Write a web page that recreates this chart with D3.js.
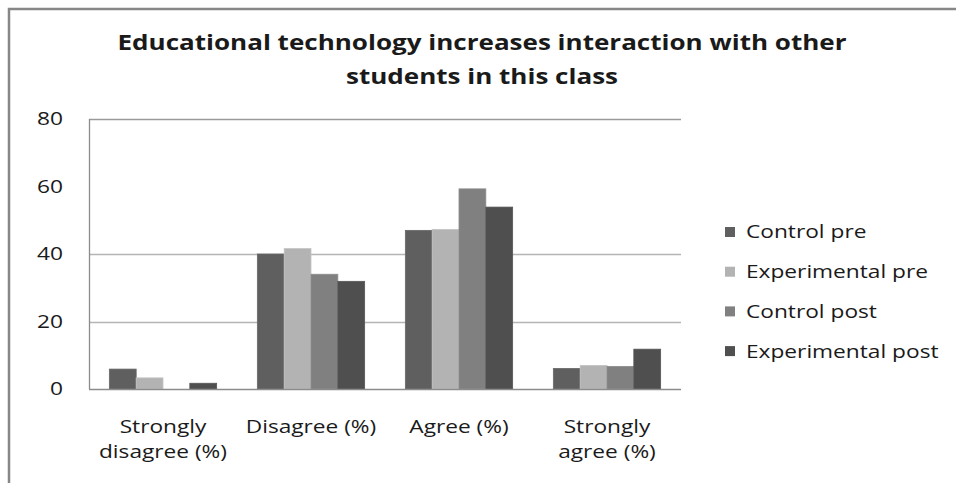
<!DOCTYPE html>
<html>
<head>
<meta charset="utf-8">
<script src="https://cdn.jsdelivr.net/npm/d3@7/dist/d3.min.js"></script>
<style>
  html, body { margin: 0; padding: 0; background: #fff; }
  svg { display: block; }
  text { font-family: "Open Sans", "DejaVu Sans", sans-serif; fill: #1a1a1a; }
</style>
</head>
<body>
<svg id="chart" width="956" height="483"></svg>
<script>
// Survey responses (%), one array per group
const categories = [["Strongly", "disagree (%)"], ["Disagree (%)"], ["Agree (%)"], ["Strongly", "agree (%)"]];
const seriesNames = ["Control pre", "Experimental pre", "Control post", "Experimental post"];
const controlPre = [5.9, 40.0, 47.0, 6.1];
const experimentalPre = [3.3, 41.6, 47.3, 7.0];
const controlPost = [0, 34.0, 59.3, 6.7];
const experimentalPost = [1.7, 31.9, 53.9, 11.8];
const yTicks = [0, 20, 40, 60, 80];
const gridTicks = [20, 40, 80];
const titleLines = ["Educational technology increases interaction with other", "students in this class"];

const seriesValues = [controlPre, experimentalPre, controlPost, experimentalPost];
const colors = ["#5f5f5f", "#b3b3b3", "#808080", "#4f4f4f"];

const svg = d3.select("#chart");

// Outer frame (top and left edges)
svg.append("path")
  .attr("d", "M9,483 V9 H956")
  .attr("fill", "none")
  .attr("stroke", "#878787")
  .attr("stroke-width", 2.5);

const plot = { left: 89, right: 681, top: 119, bottom: 389 };

const x0 = d3.scaleBand()
  .domain(d3.range(categories.length))
  .range([plot.left, plot.right])
  .paddingInner(0.275)
  .paddingOuter(0.1375);

const x1 = d3.scaleBand()
  .domain(d3.range(seriesNames.length))
  .range([0, x0.bandwidth()]);

const y = d3.scaleLinear().domain([0, 80]).range([plot.bottom, plot.top]);

// Stretch a text selection horizontally so that a reference string spans `target` px
function stretchTo(sel, refNode, target) {
  const k = target / refNode.getComputedTextLength();
  sel.each(function () {
    const w = this.getComputedTextLength();
    d3.select(this).attr("textLength", w * k).attr("lengthAdjust", "spacingAndGlyphs");
  });
}

// Gridlines
svg.append("g")
  .selectAll("line")
  .data(gridTicks)
  .join("line")
  .attr("x1", plot.left)
  .attr("x2", plot.right)
  .attr("y1", d => Math.round(y(d)) + 0.5)
  .attr("y2", d => Math.round(y(d)) + 0.5)
  .attr("stroke", d => d === 80 ? "#9a9a9a" : "#b5b5b5")
  .attr("stroke-width", 1.3);

// Bars
const groups = svg.append("g")
  .selectAll("g")
  .data(categories.map((c, i) => i))
  .join("g")
  .attr("transform", i => `translate(${x0(i)},0)`);

groups.selectAll("rect")
  .data(i => seriesValues.map((vals, s) => ({ s, v: vals[i] })))
  .join("rect")
  .attr("x", d => x1(d.s))
  .attr("width", x1.bandwidth())
  .attr("y", d => y(d.v))
  .attr("height", d => y(0) - y(d.v))
  .attr("fill", d => colors[d.s])
  .attr("stroke", d => d3.color(colors[d.s]).brighter(0.25))
  .attr("stroke-width", 0.8);

// Y axis line and baseline
svg.append("line")
  .attr("x1", plot.left + 0.5).attr("x2", plot.left + 0.5)
  .attr("y1", plot.top).attr("y2", plot.bottom)
  .attr("stroke", "#8c8c8c").attr("stroke-width", 1.3);
svg.append("line")
  .attr("x1", plot.left).attr("x2", plot.right)
  .attr("y1", plot.bottom + 0.5).attr("y2", plot.bottom + 0.5)
  .attr("stroke", "#8c8c8c").attr("stroke-width", 1.5);

// Y tick labels
const yl = svg.append("g")
  .selectAll("text")
  .data(yTicks)
  .join("text")
  .attr("x", 63)
  .attr("y", d => y(d))
  .attr("dy", "0.36em")
  .attr("text-anchor", "end")
  .attr("font-size", 17.5)
  .text(d => d);
stretchTo(yl, yl.nodes()[4], 26);

// Category labels
const xl = svg.append("g")
  .selectAll("g")
  .data(categories)
  .join("g")
  .attr("transform", (c, i) => `translate(${x0(i) + x0.bandwidth() / 2},0)`);
const xt = xl.selectAll("text")
  .data(c => c)
  .join("text")
  .attr("x", 0)
  .attr("y", (d, j) => 433 + j * 25)
  .attr("text-anchor", "middle")
  .attr("font-size", 17.5)
  .text(d => d);
stretchTo(xt, xt.filter(d => d === "disagree (%)").node(), 128);

// Title
const tt = svg.append("g")
  .selectAll("text")
  .data(titleLines)
  .join("text")
  .attr("x", 482)
  .attr("y", (d, i) => 50 + i * 34)
  .attr("text-anchor", "middle")
  .attr("font-size", 21)
  .attr("font-weight", "bold")
  .text(d => d);
stretchTo(tt, tt.nodes()[0], 729);

// Legend
const lg = svg.append("g")
  .selectAll("g")
  .data(seriesNames)
  .join("g")
  .attr("transform", (d, i) => `translate(725,${232 + i * 39.7})`);
lg.append("rect")
  .attr("x", 0).attr("y", -5)
  .attr("width", 10).attr("height", 10)
  .attr("fill", (d, i) => colors[i]);
const lt = lg.append("text")
  .attr("x", 21)
  .attr("dy", "0.36em")
  .attr("font-size", 18)
  .text(d => d);
stretchTo(lt, lt.nodes()[1], 182);
</script>
</body>
</html>
